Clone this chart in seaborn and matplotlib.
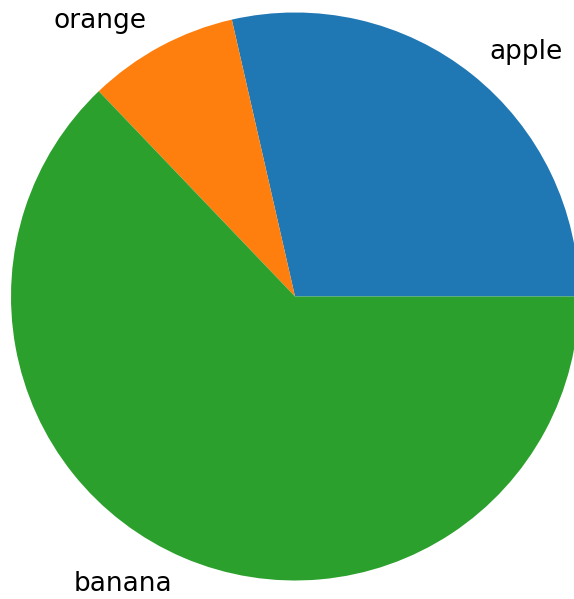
import matplotlib
matplotlib.use("Agg")
import matplotlib.pyplot as plt
import seaborn as sns

labels = ["apple", "orange", "banana"]
values = [20, 6, 44]

sns.set_theme(style="white")
plt.rcParams['font.family'] = ['DejaVu Sans']
colors = sns.color_palette("tab10", 3)

fig = plt.figure(figsize=(5.74, 5.99), dpi=100)
ax = fig.add_axes([0, 0, 1, 1])
ax.pie(values, labels=labels, colors=colors, startangle=0, counterclock=True,
       wedgeprops={'linewidth': 0, 'edgecolor': 'none'},
       textprops={'fontsize': 19, 'color': 'black'})
r = 284.0
cx, cy = 295.0, 296.5
ax.set_aspect('auto')
ax.set_xlim(-cx / r, (574 - cx) / r)
ax.set_ylim(-(599 - cy) / r, cy / r)
ax.axis('off')
fig.savefig("out.png", dpi=100)
